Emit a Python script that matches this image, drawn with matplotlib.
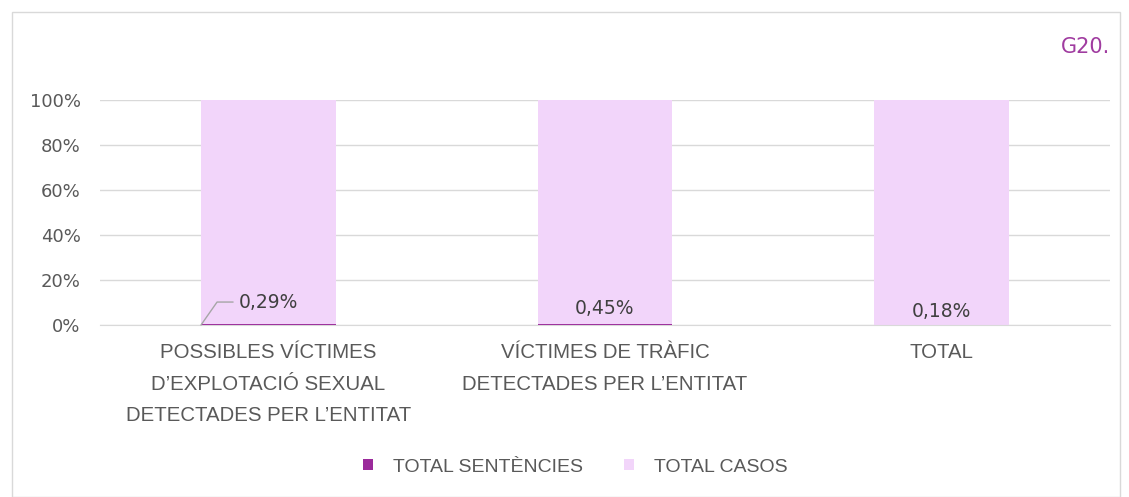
import matplotlib.pyplot as plt
from matplotlib.patches import Rectangle

categories = ["POSSIBLES VÍCTIMES\nD’EXPLOTACIÓ SEXUAL\nDETECTADES PER L’ENTITAT",
              "VÍCTIMES DE TRÀFIC\nDETECTADES PER L’ENTITAT",
              "TOTAL"]
sentencies = [0.29, 0.45, 0.18]
casos = [99.71, 99.55, 99.82]
labels = ["0,29%", "0,45%", "0,18%"]
label_y = [10.2, 7.5, 5.8]

c_sent = "#9b2a9b"
c_casos = "#f2d5fa"
grey = "#595959"

fig = plt.figure(figsize=(11.29, 4.97), dpi=100)
ax = fig.add_axes([100 / 1129, 1 - 325 / 497, 1010 / 1129, 225 / 497])

x = range(len(categories))
ax.bar(x, sentencies, width=0.4, color=c_sent, label="TOTAL SENTÈNCIES", zorder=2)
ax.bar(x, casos, width=0.4, bottom=sentencies, color=c_casos, label="TOTAL CASOS", zorder=2)

for i, (lab, ly) in enumerate(zip(labels, label_y)):
    if i == 0:
        ax.annotate(lab, xy=(-0.2, 0), xytext=(0, ly), ha="center", va="center",
                    fontsize=13.5, color="#404040",
                    arrowprops=dict(arrowstyle="-", color="#a6a6a6", lw=1,
                                    shrinkA=2, shrinkB=0,
                                    connectionstyle="angle,angleA=0,angleB=55,rad=0",
                                    relpos=(0, 0.5)))
    else:
        ax.text(i, ly, lab, ha="center", va="center", fontsize=13.5, color="#404040")

ax.set_xlim(-0.5, 2.5)
ax.set_ylim(0, 100)
ax.set_yticks(range(0, 101, 20))
ax.set_yticklabels([f"{v}%" for v in range(0, 101, 20)])
ax.set_xticks(list(x))
ax.set_xticklabels(categories, fontsize=14.7, color=grey, linespacing=1.83,
                   family="Liberation Sans")
ax.tick_params(axis="y", labelsize=13, colors=grey, length=0, pad=14)
ax.tick_params(axis="x", length=0, pad=13)
ax.grid(axis="y", color="#d9d9d9", lw=1, zorder=0)
for s in ["top", "right", "left"]:
    ax.spines[s].set_visible(False)
ax.spines["bottom"].set_color("#d9d9d9")

fig.text(1085 / 1129, 1 - 47 / 497, "G20.", color="#a03ca0", fontsize=15,
         ha="center", va="center")

fig.legend(loc="center", bbox_to_anchor=(575 / 1129, 1 - 467 / 497), ncol=2,
           frameon=False, prop={"family": "Liberation Sans", "size": 14},
           labelcolor=grey, handlelength=0.55, handleheight=0.55,
           columnspacing=2.1, handletextpad=1.0)

fig.patches.append(Rectangle((12 / 1129, 0), 1108 / 1129, 1 - 12 / 497,
                             transform=fig.transFigure, fill=False,
                             edgecolor="#d9d9d9", lw=1))

fig.savefig("out.png", dpi=100)
